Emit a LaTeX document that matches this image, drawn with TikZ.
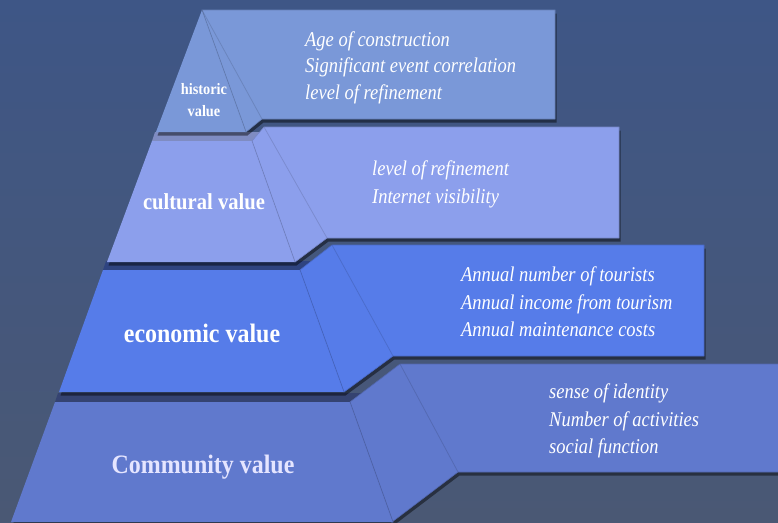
\documentclass[tikz,border=0pt]{standalone}
\usepackage{fontspec}
\setmainfont{Liberation Serif}
\newfontfamily\lblfont[FakeStretch=0.9]{Liberation Serif}
\newfontfamily\itmfont[FakeStretch=0.88]{Liberation Serif}
\usetikzlibrary{shadows}
\definecolor{bgTop}{HTML}{3E5686}
\definecolor{bgBot}{HTML}{4A5874}
\definecolor{histC}{HTML}{7A98D8}
\definecolor{culC}{HTML}{8C9FEC}
\definecolor{ecoC}{HTML}{567CE9}
\definecolor{comC}{HTML}{6079CD}
\definecolor{culBand}{HTML}{7F8CC2}
\begin{document}
\begin{tikzpicture}[x=1pt,y=-1pt,
  shad/.style={drop shadow={shadow xshift=1.5pt,shadow yshift=-3.5pt,opacity=0.45,fill=black}},
  faceline/.style={draw=#1, line width=0.8pt, opacity=0.3},
  panelline/.style={draw=#1, line width=0.6pt},
  lbl/.style={text=white, inner sep=0},
  itm/.style={text=white, inner sep=0, anchor=base west, font=\itmfont\itshape\fontsize{21}{24}\selectfont},
]
\useasboundingbox (0,0) rectangle (778,522);
\shade[top color=bgTop, bottom color=bgBot] (0,0) rectangle (778,522);

% ---------- Community tier ----------
\fill[comC!55!black] (55,402) -- (58,393) -- (362,393) -- (350,402) -- cycle;
\path[shad] (55,402) -- (350,402) -- (400,364) -- (778,364) -- (778,472) -- (458,472) -- (392,522) -- (11,522) -- cycle;
\fill[comC, panelline=comC!85!black] (350,402) -- (400,364) -- (779,364) -- (779,472) -- (458,472) -- (392,522) -- (393,522) -- cycle;
\fill[comC] (55,402) -- (350,402) -- (393,522) -- (11,522) -- cycle;
\draw[faceline=comC!60!black] (350,402) -- (393,522);
\draw[faceline=comC!60!black] (400,364) -- (458,472);

% ---------- Economic tier ----------
\fill[ecoC!55!black] (103,270) -- (106,261) -- (312,261) -- (300,270) -- cycle;
\path[shad] (103,270) -- (300,270) -- (332,245) -- (704,245) -- (704,356) -- (393,356) -- (344,392) -- (59,392) -- cycle;
\fill[ecoC, panelline=ecoC!85!black] (300,270) -- (332,245) -- (704,245) -- (704,356) -- (393,356) -- (344,392) -- cycle;
\fill[ecoC] (103,270) -- (300,270) -- (344,392) -- (59,392) -- cycle;
\draw[faceline=ecoC!60!black] (300,270) -- (344,392);
\draw[faceline=ecoC!60!black] (332,245) -- (393,356);

% ---------- Cultural tier ----------
\fill[culBand] (152,141) -- (155,132) -- (260,132) -- (252,141) -- cycle;
\path[shad] (152,141) -- (252,141) -- (264,127) -- (619,127) -- (619,238) -- (327,238) -- (295,262) -- (107,262) -- cycle;
\fill[culC, panelline=culC!85!black] (252,141) -- (264,127) -- (619,127) -- (619,238) -- (327,238) -- (295,262) -- cycle;
\fill[culC] (152,141) -- (252,141) -- (295,262) -- (107,262) -- cycle;
\draw[faceline=culC!60!black] (252,141) -- (295,262);
\draw[faceline=culC!60!black] (264,127) -- (327,238);

% ---------- Historic tier ----------
\path[shad] (202,10) -- (555,10) -- (555,119) -- (262,119) -- (246,132) -- (156,132) -- cycle;
\fill[histC, panelline=histC!85!black] (202,10) -- (555,10) -- (555,119) -- (262,119) -- (246,132) -- cycle;
\fill[histC] (202,10) -- (246,132) -- (156,132) -- cycle;
\draw[faceline=histC!60!black] (202,10) -- (246,132);
\draw[faceline=histC!60!black] (202,10) -- (262,119);

% ---------- Labels ----------
\node[lbl, align=center, font=\lblfont\bfseries\fontsize{15.9}{21.6}\selectfont] (lhist) at (204,100) {historic\\value};
\node[lbl, anchor=base, font=\lblfont\bfseries\fontsize{22.9}{26}\selectfont] (lcul) at (204,209) {cultural value};
\node[lbl, anchor=base, font=\lblfont\bfseries\fontsize{26.6}{30}\selectfont] (leco) at (202,342) {economic value};
\node[lbl, anchor=base, text=white!90!blue, font=\lblfont\bfseries\fontsize{26.6}{30}\selectfont] (lcom) at (203,473) {Community value};

% ---------- Items ----------
\node[itm] (h1) at (305,46) {Age of construction};
\node[itm] (h2) at (305,72.5) {Significant event correlation};
\node[itm] (h3) at (305,99) {level of refinement};

\node[itm] (c1) at (372,175.5) {level of refinement};
\node[itm] (c2) at (372,203.5) {Internet visibility};

\node[itm] (e1) at (461,281.5) {Annual number of tourists};
\node[itm] (e2) at (461,309) {Annual income from tourism};
\node[itm] (e3) at (461,336) {Annual maintenance costs};

\node[itm] (m1) at (549,398) {sense of identity};
\node[itm] (m2) at (549,426) {Number of activities};
\node[itm] (m3) at (549,453) {social function};
\end{tikzpicture}
\end{document}
